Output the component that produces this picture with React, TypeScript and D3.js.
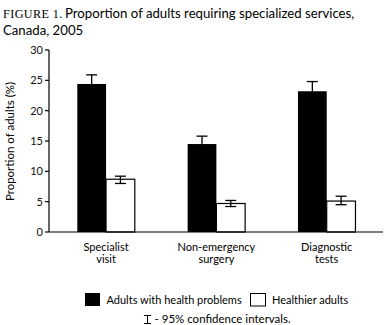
import React from "react";
import * as d3 from "d3";

const categories = ["Specialist visit", "Non-emergency surgery", "Diagnostic tests"];
const categoryLines = [["Specialist", "visit"], ["Non-emergency", "surgery"], ["Diagnostic", "tests"]];
const seriesNames = ["Adults with health problems", "Healthier adults"];
const healthProblems = [24.4, 14.5, 23.2];
const healthProblemsLow = [22.9, 13.2, 21.6];
const healthProblemsHigh = [25.9, 15.8, 24.8];
const healthier = [8.7, 4.7, 5.1];
const healthierLow = [8.0, 4.2, 4.5];
const healthierHigh = [9.2, 5.2, 5.9];
const yTicks = [0, 5, 10, 15, 20, 25, 30];

const W = 387;
const H = 325;
const FONT = "Lato, 'Open Sans', sans-serif";

export default function App() {
  const y = d3.scaleLinear().domain([0, 30]).range([232, 50]);
  const x0 = d3.scaleBand().domain(categories).range([24.5, 355.5]).padding(0);
  const x1 = d3.scaleBand().domain(seriesNames).range([52.8, 110.3]).padding(0);
  const values = [healthProblems, healthier];
  const lows = [healthProblemsLow, healthierLow];
  const highs = [healthProblemsHigh, healthierHigh];
  const fills = ["#000", "#fff"];
  const axisX0 = 49;
  const axisX1 = 383;
  const base = y(0);
  const capW = 11;

  return (
    <svg width={W} height={H} style={{ position: "absolute", left: 0, top: 0, background: "#fff" }} fontFamily={FONT}>
      <rect x={0} y={0} width={W} height={H} fill="#fff" />
      {/* Title */}
      <text x={3} y={17.5} fontSize={12.2} fill="#000" fontFamily="'Liberation Serif', 'DejaVu Serif', serif" letterSpacing={0.4}>FIGURE 1.</text>
      <text x={65} y={17.5} fontSize={13.2} fill="#000">Proportion of adults requiring specialized services,</text>
      <text x={3} y={34.5} fontSize={13.2} fill="#000">Canada, 2005</text>

      {/* Y axis */}
      <line x1={axisX0} x2={axisX0} y1={y(30)} y2={base} stroke="#000" strokeWidth={1.2} />
      {yTicks.map((t) => (
        <g key={t}>
          <line x1={axisX0 - 4} x2={axisX0} y1={y(t)} y2={y(t)} stroke="#000" strokeWidth={1.2} />
          <text x={43} y={y(t)} dy="0.35em" textAnchor="end" fontSize={11} fill="#111">{t}</text>
        </g>
      ))}
      <text transform={`translate(14,141.5) rotate(-90)`} textAnchor="middle" fontSize={11.5} fill="#000">Proportion of adults (%)</text>

      {/* Bars */}
      {categories.map((c, ci) => (
        <g key={c}>
          {seriesNames.map((s, si) => {
            const bx = (x0(c) as number) + (x1(s) as number);
            const bw = x1.bandwidth();
            const v = values[si][ci];
            const cx = bx + bw / 2;
            const err = (
              <>
                <line x1={cx} x2={cx} y1={y(lows[si][ci])} y2={y(highs[si][ci])} stroke="#000" strokeWidth={1.3} />
                <line x1={cx - capW / 2} x2={cx + capW / 2} y1={y(highs[si][ci])} y2={y(highs[si][ci])} stroke="#000" strokeWidth={1.3} />
                <line x1={cx - capW / 2} x2={cx + capW / 2} y1={y(lows[si][ci])} y2={y(lows[si][ci])} stroke="#000" strokeWidth={1.3} />
              </>
            );
            return (
              <g key={s}>
                {si === 0 && err}
                <rect x={bx} y={y(v)} width={bw} height={base - y(v)} fill={fills[si]} stroke="#000" strokeWidth={si === 1 ? 1.2 : 0} />
                {si === 1 && err}
              </g>
            );
          })}
          {categoryLines[ci].map((ln, li) => (
            <text key={li} x={(x0(c) as number) + 52.8 + 28.75} y={250.5 + li * 12} textAnchor="middle" fontSize={11} fill="#000">{ln}</text>
          ))}
        </g>
      ))}

      {/* X axis */}
      <line x1={axisX0} x2={axisX1} y1={base} y2={base} stroke="#000" strokeWidth={1.2} />

      {/* Legend */}
      <rect x={85} y={293} width={15} height={13} fill="#000" />
      <text x={106.5} y={304} fontSize={11} fill="#000">{seriesNames[0]}</text>
      <rect x={250.5} y={293.5} width={15} height={12.5} fill="#fff" stroke="#000" strokeWidth={1} />
      <text x={272} y={304} fontSize={11} fill="#000">{seriesNames[1]}</text>

      {/* CI note */}
      <line x1={147.5} x2={147.5} y1={315.5} y2={323.5} stroke="#000" strokeWidth={1} />
      <line x1={144} x2={151} y1={315.5} y2={315.5} stroke="#000" strokeWidth={1} />
      <line x1={144} x2={151} y1={323.5} y2={323.5} stroke="#000" strokeWidth={1} />
      <text x={154.5} y={323} fontSize={11.5} fill="#000">- 95% confidence intervals.</text>
    </svg>
  );
}
